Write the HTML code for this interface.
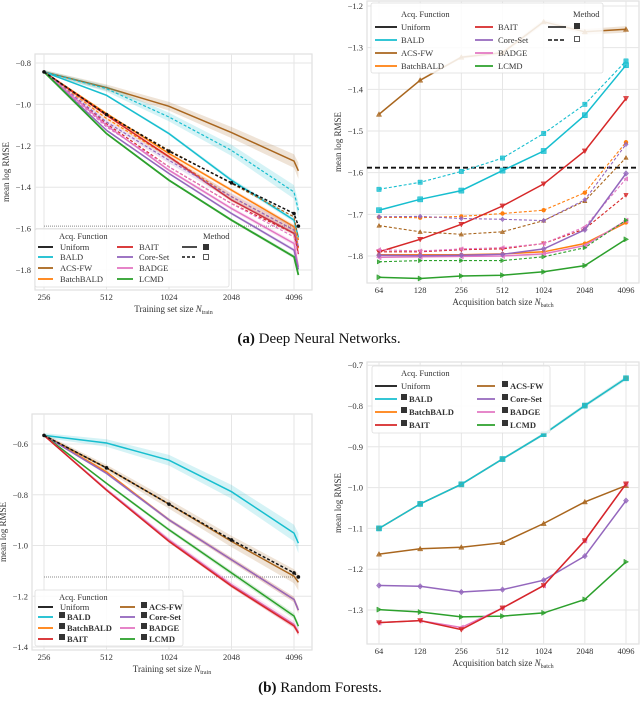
<!DOCTYPE html>
<html><head><meta charset="utf-8">
<style>
html,body{margin:0;padding:0;background:#fff;}
svg{display:block;font-family:"Liberation Serif",serif;}
</style></head>
<body>
<svg id="fig" width="640" height="709" viewBox="0 0 640 709" xmlns="http://www.w3.org/2000/svg"></svg>
<script>
// ---------- DATA ----------
const trainX = [256, 512, 1024, 2048, 4096, 4300];
const batchX = [64, 128, 256, 512, 1024, 2048, 4096];
const names = ["Uniform","BALD","ACS-FW","BatchBALD","BAIT","Core-Set","BADGE","LCMD"];
const colors = {"Uniform":"#111","BALD":"#17becf","ACS-FW":"#a9661e","BatchBALD":"#ff7f0e","BAIT":"#d62728","Core-Set":"#9467bd","BADGE":"#e377c2","LCMD":"#2ca02c"};

// (a) DNN learning curves
const dnnUniform = [-0.843,-1.049,-1.226,-1.379,-1.527,-1.588];
const dnnAcsSolid = [-0.843,-0.919,-1.009,-1.136,-1.274,-1.321];
const dnnAcsDash = [-0.843,-1.049,-1.222,-1.382,-1.543,-1.655];
const dnnBaldSolid = [-0.843,-0.956,-1.141,-1.366,-1.559,-1.642];
const dnnBaldDash = [-0.843,-0.924,-1.061,-1.222,-1.423,-1.511];
const dnnBbSolid = [-0.843,-1.044,-1.237,-1.414,-1.591,-1.695];
const dnnBbDash = [-0.843,-1.068,-1.253,-1.446,-1.607,-1.655];
const dnnBaitSolid = [-0.843,-1.052,-1.253,-1.462,-1.623,-1.723];
const dnnBaitDash = [-0.843,-1.093,-1.302,-1.479,-1.623,-1.688];
const dnnCoreSolid = [-0.843,-1.125,-1.334,-1.527,-1.704,-1.797];
const dnnCoreDash = [-0.843,-1.085,-1.270,-1.446,-1.607,-1.688];
const dnnBadgeSolid = [-0.843,-1.101,-1.318,-1.503,-1.672,-1.785];
const dnnBadgeDash = [-0.843,-1.109,-1.302,-1.479,-1.640,-1.728];
const dnnLcmd = [-0.843,-1.141,-1.366,-1.559,-1.736,-1.824];
const dnnRef = [-1.588];

// (a) DNN batch size
const bUniform = [-1.588];
const bAcsSolid = [-1.46,-1.378,-1.323,-1.312,-1.238,-1.262,-1.256];
const bAcsDash = [-1.727,-1.742,-1.748,-1.742,-1.715,-1.668,-1.564];
const bBaldSolid = [-1.69,-1.664,-1.643,-1.595,-1.548,-1.462,-1.342];
const bBaldDash = [-1.64,-1.623,-1.597,-1.565,-1.506,-1.436,-1.332];
const bBbSolid = [-1.797,-1.797,-1.797,-1.795,-1.79,-1.77,-1.72];
const bBbDash = [-1.707,-1.708,-1.705,-1.698,-1.69,-1.648,-1.527];
const bBaitSolid = [-1.79,-1.76,-1.724,-1.68,-1.627,-1.548,-1.422];
const bBaitDash = [-1.79,-1.79,-1.785,-1.783,-1.77,-1.735,-1.654];
const bCoreSolid = [-1.798,-1.799,-1.798,-1.796,-1.783,-1.737,-1.602];
const bCoreDash = [-1.706,-1.705,-1.71,-1.712,-1.715,-1.665,-1.532];
const bBadgeSolid = [-1.803,-1.802,-1.801,-1.80,-1.795,-1.775,-1.715];
const bBadgeDash = [-1.785,-1.788,-1.783,-1.78,-1.77,-1.73,-1.615];
const bLcmdSolid = [-1.851,-1.854,-1.848,-1.846,-1.838,-1.823,-1.76];
const bLcmdDash = [-1.814,-1.811,-1.811,-1.811,-1.802,-1.78,-1.714];

// (b) RF learning curves
const rfUniform = [-0.566,-0.694,-0.837,-0.978,-1.108,-1.124];
const rfBald = [-0.566,-0.596,-0.664,-0.788,-0.951,-0.991];
const rfAcs = [-0.566,-0.694,-0.837,-0.984,-1.121,-1.145];
const rfBb = [-0.566,-0.710,-0.899,-1.056,-1.213,-1.255];
const rfCore = [-0.566,-0.716,-0.899,-1.056,-1.213,-1.255];
const rfBait = [-0.566,-0.782,-0.984,-1.160,-1.317,-1.346];
const rfBadge = [-0.566,-0.779,-0.978,-1.154,-1.311,-1.341];
const rfLcmd = [-0.566,-0.755,-0.938,-1.108,-1.278,-1.318];
const rfRef = [-1.124];

// (b) RF batch size
const rBald = [-1.1,-1.040,-0.992,-0.930,-0.869,-0.799,-0.732];
const rBb = [-1.1,-1.040,-0.992,-0.930,-0.869,-0.799,-0.732];
const rAcs = [-1.163,-1.150,-1.146,-1.135,-1.088,-1.035,-0.995];
const rCore = [-1.240,-1.242,-1.256,-1.25,-1.227,-1.168,-1.032];
const rBait = [-1.331,-1.326,-1.348,-1.295,-1.24,-1.13,-0.991];
const rBadge = [-1.331,-1.326,-1.343,-1.295,-1.24,-1.13,-0.991];
const rLcmd = [-1.299,-1.305,-1.317,-1.315,-1.307,-1.274,-1.182];

const trainTicks = [256,512,1024,2048,4096];
const batchTicks = [64,128,256,512,1024,2048,4096];
const ticksA = [-0.8,-1.0,-1.2,-1.4,-1.6,-1.8];
const ticksB = [-1.2,-1.3,-1.4,-1.5,-1.6,-1.7,-1.8];
const ticksC = [-0.6,-0.8,-1.0,-1.2,-1.4];
const ticksD = [-0.7,-0.8,-0.9,-1.0,-1.1,-1.2,-1.3];

// ---------- HELPERS ----------
const NS = "http://www.w3.org/2000/svg";
const svg = document.getElementById("fig");
function mk(tag, attrs, parent, text){
  const e = document.createElementNS(NS, tag);
  for (const k in attrs) e.setAttribute(k, attrs[k]);
  if (text !== undefined) e.textContent = text;
  (parent || svg).appendChild(e);
  return e;
}
function logScale(d0, d1, r0, r1){ return v => r0 + (Math.log2(v)-Math.log2(d0))/(Math.log2(d1)-Math.log2(d0))*(r1-r0); }
function linScale(d0, d1, r0, r1){ return v => r0 + (v-d0)/(d1-d0)*(r1-r0); }
function idxScale(n, r0, r1){ return i => r0 + i*(r1-r0)/(n-1); }

function panel(name, box, xs, ys, xTicks, xTickPos, yTicks, xLabel, xSub){
  const g = mk("g", {}, svg);
  
  
  mk("rect", {x:box.l, y:box.t, width:box.r-box.l, height:box.b-box.t, fill:"#fff", stroke:"#e0e0e0", "stroke-width":1.2}, g);
  const grid = mk("g", {}, g);
  
  
  xTicks.forEach((t,i)=>{
    const x = xTickPos(t,i);
    mk("line", {x1:x, x2:x, y1:box.t, y2:box.b, stroke:"#e6e6e6", "stroke-width":1}, grid);
    const tl = mk("text", {x:x, y:box.b+10, "font-size":8.5, fill:"#333", "text-anchor":"middle"}, g, String(t));
    
    
  });
  yTicks.forEach(t=>{
    const y = ys(t);
    mk("line", {x1:box.l, x2:box.r, y1:y, y2:y, stroke:"#e6e6e6", "stroke-width":1}, grid);
    const tl = mk("text", {x:box.l-4, y:y+3, "font-size":8.5, fill:"#333", "text-anchor":"end"}, g, "\u2212"+Math.abs(t).toFixed(1));
    
    
  });
  const xl = mk("text", {x:(box.l+box.r)/2, y:box.b+22, "font-size":9, fill:"#333", "text-anchor":"middle"}, g);
  
  
  mk("tspan", {}, xl, xLabel+" ");
  mk("tspan", {"font-style":"italic"}, xl, "N");
  mk("tspan", {"font-size":6, dy:2}, xl, xSub);
  const yx = box.l - 26, yy = (box.t+box.b)/2;
  const yl = mk("text", {x:yx, y:yy, "font-size":9, fill:"#333", "text-anchor":"middle", transform:`rotate(-90 ${yx} ${yy})`}, g, "mean log RMSE");
  
  
  return g;
}
function path(pts){ return pts.map((p,i)=>(i?"L":"M")+p[0].toFixed(1)+","+p[1].toFixed(1)).join(""); }

function series(g, label, xsArr, vals, xs, ys, opts){
  const c = colors[label];
  const pts = vals.map((v,i)=>[xs(xsArr[i], i), ys(v)]);
  if (opts.band){
    const up = vals.map((v,i)=>[xs(xsArr[i], i), ys(v + opts.band*(i/(vals.length-1)+0.3))]);
    const dn = vals.map((v,i)=>[xs(xsArr[i], i), ys(v - opts.band*(i/(vals.length-1)+0.3))]).reverse();
    const b = mk("path", {d: path(up.concat(dn))+"Z", fill:c, opacity:0.18, stroke:"none"}, g);
    
    
  }
  const p = mk("path", {d:path(pts), fill:"none", stroke:c, "stroke-width":opts.w||1.5, "stroke-dasharray":opts.dash||"none"}, g);
  
  
  if (opts.marker){
    pts.forEach(pt=>{
      const m = marker(g, opts.marker, pt[0], pt[1], c, opts.ms||2.6);
      
      
    });
  }
}
function marker(g, type, x, y, c, s){
  let d;
  if (type==="s") d=`M${x-s},${y-s}h${2*s}v${2*s}h${-2*s}Z`;
  else if (type==="^") d=`M${x},${y-s}L${x+s},${y+s*0.8}L${x-s},${y+s*0.8}Z`;
  else if (type==="v") d=`M${x},${y+s}L${x+s},${y-s*0.8}L${x-s},${y-s*0.8}Z`;
  else if (type==="d") d=`M${x},${y-s*1.1}L${x+s},${y}L${x},${y+s*1.1}L${x-s},${y}Z`;
  else if (type==="<") d=`M${x-s},${y}L${x+s*0.8},${y-s}L${x+s*0.8},${y+s}Z`;
  else if (type===">") d=`M${x+s},${y}L${x-s*0.8},${y-s}L${x-s*0.8},${y+s}Z`;
  else return mk("circle", {cx:x, cy:y, r:s, fill:c}, g);
  return mk("path", {d:d, fill:c, stroke:c, "stroke-width":0.5, "fill-opacity":0.8}, g);
}

function legend(name, box, title, titleX, titleY, entries, extra){
  const g = mk("g", {}, svg);
  
  
  mk("rect", {x:box.l, y:box.t, width:box.r-box.l, height:box.b-box.t, rx:2, fill:"#fff", "fill-opacity":0.85, stroke:"#ddd", "stroke-width":0.8}, g);
  mk("text", {x:titleX, y:titleY, "font-size":8.5, fill:"#333"}, g, title);
  entries.forEach(e=>{
    const eg = mk("g", {}, g);
    
    
    mk("line", {x1:e.x1, x2:e.x2, y1:e.y-3, y2:e.y-3, stroke:colors[e.label]||"#111", "stroke-width":1.8, "stroke-dasharray":e.dash||"none"}, eg);
    let tx = e.x2 + (e.gap||6);
    if (e.sq){ mk("rect", {x:tx, y:e.y-8, width:6, height:6, fill:"#333"}, eg); tx += 8; }
    mk("text", {x:tx, y:e.y, "font-size":8.5, fill:"#333", "font-weight":e.sq?"bold":"normal"}, eg, e.label);
  });
  if (extra) extra(g);
}

// ---------- PANEL A: DNN learning curve ----------
{
  const box = {l:35, r:312, t:54, b:290};
  const xs = logScale(256, 4096, 44, 294);
  const ys = linScale(-0.8, -1.8, 63, 270);
  const g = panel("dnn-learning-curve-chart", box, xs, ys, trainTicks, t=>xs(t), ticksA, "Training set size", "train");
  const rl = mk("line", {x1:xs(256), x2:xs(4300), y1:ys(dnnRef[0]), y2:ys(dnnRef[0]), stroke:"#888", "stroke-width":1, "stroke-dasharray":"1,1"}, g);
  
  
  const X = (v)=>xs(v);
  series(g,"ACS-FW",trainX,dnnAcsSolid,X,ys,{band:0.03});
  series(g,"BALD",trainX,dnnBaldDash,X,ys,{band:0.03,dash:"3,2",w:1.2});
  series(g,"BALD",trainX,dnnBaldSolid,X,ys,{band:0.01});
  series(g,"ACS-FW",trainX,dnnAcsDash,X,ys,{dash:"3,2",w:1.2});
  series(g,"BatchBALD",trainX,dnnBbDash,X,ys,{band:0.015,dash:"3,2",w:1.2});
  series(g,"BatchBALD",trainX,dnnBbSolid,X,ys,{band:0.01});
  series(g,"BAIT",trainX,dnnBaitDash,X,ys,{dash:"3,2",w:1.2});
  series(g,"BAIT",trainX,dnnBaitSolid,X,ys,{band:0.01});
  series(g,"Core-Set",trainX,dnnCoreDash,X,ys,{band:0.02,dash:"3,2",w:1.2});
  series(g,"BADGE",trainX,dnnBadgeDash,X,ys,{dash:"3,2",w:1.2});
  series(g,"BADGE",trainX,dnnBadgeSolid,X,ys,{band:0.01});
  series(g,"Core-Set",trainX,dnnCoreSolid,X,ys,{band:0.008});
  series(g,"LCMD",trainX,dnnLcmd,X,ys,{band:0.008,w:1.8});
  series(g,"Uniform",trainX,dnnUniform,X,ys,{dash:"3,2",w:1.5,marker:"o",ms:1.8});
  legend("dnn-curve-legend", {l:35,r:229,t:229,b:287}, "Acq. Function", 59, 239, [
    {label:"Uniform",x1:38,x2:53,y:250,gap:7},{label:"BALD",x1:38,x2:53,y:260,gap:7},
    {label:"ACS-FW",x1:38,x2:53,y:271,gap:7},{label:"BatchBALD",x1:38,x2:53,y:282,gap:7},
    {label:"BAIT",x1:117,x2:133,y:250},{label:"Core-Set",x1:117,x2:133,y:260},
    {label:"BADGE",x1:117,x2:133,y:271},{label:"LCMD",x1:117,x2:133,y:282}
  ], lg=>{
    mk("text",{x:203,y:239,"font-size":8.5,fill:"#333"},lg,"Method");
    mk("line",{x1:182,x2:197,y1:247,y2:247,stroke:"#111","stroke-width":1.5},lg);
    mk("rect",{x:203,y:244,width:6,height:6,fill:"#333"},lg);
    mk("line",{x1:182,x2:197,y1:257,y2:257,stroke:"#111","stroke-width":1.5,"stroke-dasharray":"3,2"},lg);
    mk("rect",{x:203.5,y:254.5,width:5,height:5,fill:"none",stroke:"#333","stroke-width":0.8},lg);
  });
}

// ---------- PANEL B: DNN batch size ----------
{
  const box = {l:367, r:639, t:1, b:283};
  const xs = idxScale(7, 379, 626);
  const ys = linScale(-1.2, -1.8, 6, 256);
  const X = (v,i)=>xs(i);
  const g = panel("dnn-batch-size-chart", box, xs, ys, batchTicks, (t,i)=>xs(i), ticksB, "Acquisition batch size", "batch");
  const ul = mk("line",{x1:box.l,x2:box.r,y1:ys(bUniform[0]),y2:ys(bUniform[0]),stroke:"#111","stroke-width":1.8,"stroke-dasharray":"5,3"},g);
  
  
  const D = {dash:"3,2",w:1.1,ms:2.2};
  series(g,"ACS-FW",batchX,bAcsSolid,X,ys,{marker:"^",band:0.006});
  series(g,"ACS-FW",batchX,bAcsDash,X,ys,Object.assign({marker:"^"},D));
  series(g,"BALD",batchX,bBaldDash,X,ys,Object.assign({marker:"s"},D));
  series(g,"BALD",batchX,bBaldSolid,X,ys,{marker:"s"});
  series(g,"BatchBALD",batchX,bBbSolid,X,ys,{marker:"o",ms:2});
  series(g,"BatchBALD",batchX,bBbDash,X,ys,Object.assign({marker:"o"},D));
  series(g,"BAIT",batchX,bBaitSolid,X,ys,{marker:"v"});
  series(g,"BAIT",batchX,bBaitDash,X,ys,Object.assign({marker:"v"},D));
  series(g,"Core-Set",batchX,bCoreDash,X,ys,Object.assign({marker:"d"},D));
  series(g,"BADGE",batchX,bBadgeDash,X,ys,Object.assign({marker:"<"},D));
  series(g,"BADGE",batchX,bBadgeSolid,X,ys,{marker:"<"});
  series(g,"Core-Set",batchX,bCoreSolid,X,ys,{marker:"d"});
  series(g,"LCMD",batchX,bLcmdDash,X,ys,Object.assign({marker:">"},D));
  series(g,"LCMD",batchX,bLcmdSolid,X,ys,{marker:">"});
  legend("dnn-batch-legend", {l:371,r:603,t:3,b:73}, "Acq. Function", 401, 17, [
    {label:"Uniform",x1:375,x2:397,y:30,gap:4},{label:"BALD",x1:375,x2:397,y:43,gap:4},
    {label:"ACS-FW",x1:375,x2:397,y:56,gap:4},{label:"BatchBALD",x1:375,x2:397,y:69,gap:4},
    {label:"BAIT",x1:475,x2:493,y:30,gap:5},{label:"Core-Set",x1:475,x2:493,y:43,gap:5},
    {label:"BADGE",x1:475,x2:493,y:56,gap:5},{label:"LCMD",x1:475,x2:493,y:69,gap:5}
  ], lg=>{
    mk("text",{x:573,y:17,"font-size":8.5,fill:"#333"},lg,"Method");
    mk("line",{x1:548,x2:566,y1:27,y2:27,stroke:"#111","stroke-width":1.5},lg);
    mk("rect",{x:574,y:23,width:6,height:6,fill:"#333"},lg);
    mk("line",{x1:548,x2:566,y1:40,y2:40,stroke:"#111","stroke-width":1.5,"stroke-dasharray":"4,2"},lg);
    mk("rect",{x:574.5,y:36.5,width:5,height:5,fill:"none",stroke:"#333","stroke-width":0.8},lg);
  });
}

// ---------- PANEL C: RF learning curve ----------
{
  const box = {l:32, r:312, t:414, b:650};
  const xs = logScale(256, 4096, 44, 294);
  const ys = linScale(-0.6, -1.4, 444, 647);
  const X = (v)=>xs(v);
  const g = panel("rf-learning-curve-chart", box, xs, ys, trainTicks, t=>xs(t), ticksC, "Training set size", "train");
  const rl = mk("line", {x1:xs(256), x2:xs(4300), y1:ys(rfRef[0]), y2:ys(rfRef[0]), stroke:"#888", "stroke-width":1, "stroke-dasharray":"1,1"}, g);
  
  
  series(g,"BALD",trainX,rfBald,X,ys,{band:0.03});
  series(g,"ACS-FW",trainX,rfAcs,X,ys,{band:0.025});
  series(g,"BatchBALD",trainX,rfBb,X,ys,{band:0.01});
  series(g,"Core-Set",trainX,rfCore,X,ys,{band:0.01});
  series(g,"LCMD",trainX,rfLcmd,X,ys,{band:0.01});
  series(g,"BADGE",trainX,rfBadge,X,ys,{band:0.012});
  series(g,"BAIT",trainX,rfBait,X,ys,{band:0.008});
  series(g,"Uniform",trainX,rfUniform,X,ys,{dash:"3,2",w:1.5,marker:"o",ms:1.8});
  legend("rf-curve-legend", {l:35,r:183,t:590,b:646}, "Acq. Function", 59, 600, [
    {label:"Uniform",x1:38,x2:53,y:610,gap:7},{label:"BALD",x1:38,x2:53,y:620,sq:true},
    {label:"BatchBALD",x1:38,x2:53,y:631,sq:true},{label:"BAIT",x1:38,x2:53,y:642,sq:true},
    {label:"ACS-FW",x1:120,x2:135,y:610,sq:true},{label:"Core-Set",x1:120,x2:135,y:620,sq:true},
    {label:"BADGE",x1:120,x2:135,y:631,sq:true},{label:"LCMD",x1:120,x2:135,y:642,sq:true}
  ]);
}

// ---------- PANEL D: RF batch size ----------
{
  const box = {l:367, r:639, t:362, b:644};
  const xs = idxScale(7, 379, 626);
  const ys = linScale(-0.8, -1.3, 406, 610);
  const X = (v,i)=>xs(i);
  const g = panel("rf-batch-size-chart", box, xs, ys, batchTicks, (t,i)=>xs(i), ticksD, "Acquisition batch size", "batch");
  series(g,"BatchBALD",batchX,rBb,X,ys,{marker:"o"});
  series(g,"BALD",batchX,rBald,X,ys,{marker:"s",band:0.004});
  series(g,"ACS-FW",batchX,rAcs,X,ys,{marker:"^"});
  series(g,"Core-Set",batchX,rCore,X,ys,{marker:"d"});
  series(g,"LCMD",batchX,rLcmd,X,ys,{marker:">"});
  series(g,"BADGE",batchX,rBadge,X,ys,{marker:"<"});
  series(g,"BAIT",batchX,rBait,X,ys,{marker:"v"});
  legend("rf-batch-legend", {l:372,r:550,t:366,b:433}, "Acq. Function", 401, 376, [
    {label:"Uniform",x1:375,x2:397,y:389,gap:4},{label:"BALD",x1:375,x2:397,y:402,sq:true,gap:4},
    {label:"BatchBALD",x1:375,x2:397,y:415,sq:true,gap:4},{label:"BAIT",x1:375,x2:397,y:428,sq:true,gap:4},
    {label:"ACS-FW",x1:477,x2:495,y:389,sq:true,gap:7},{label:"Core-Set",x1:477,x2:495,y:402,sq:true,gap:7},
    {label:"BADGE",x1:477,x2:495,y:415,sq:true,gap:7},{label:"LCMD",x1:477,x2:495,y:428,sq:true,gap:7}
  ]);
}

// ---------- CAPTIONS ----------
{
  const c1 = mk("text",{x:319,y:343,"font-size":15,fill:"#111","text-anchor":"middle"},svg);
  
  
  mk("tspan",{"font-weight":"bold"},c1,"(a)");
  mk("tspan",{},c1," Deep Neural Networks.");
  const c2 = mk("text",{x:320,y:692,"font-size":15,fill:"#111","text-anchor":"middle"},svg);
  
  
  mk("tspan",{"font-weight":"bold"},c2,"(b)");
  mk("tspan",{},c2," Random Forests.");
}
</script>
</body></html>
